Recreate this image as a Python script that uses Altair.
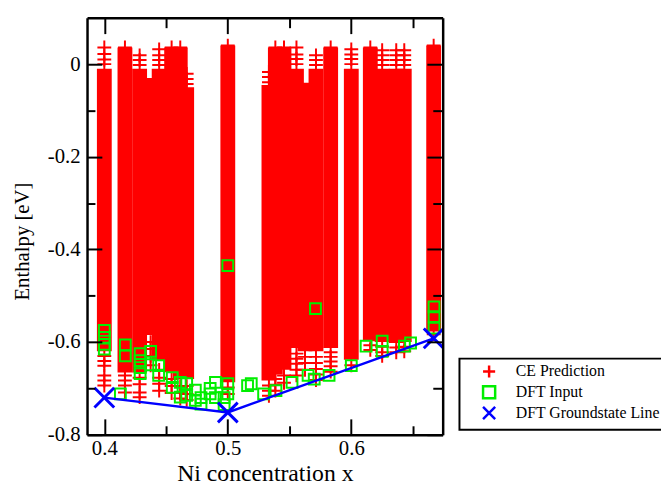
import altair as alt
import pandas as pd

# ---------------- data ----------------
# CE prediction: each concentration forms a dense column of "+" markers (top / bottom of solid band)
col_x = [0.4000, 0.4167, 0.4286, 0.4375, 0.4444, 0.4545, 0.4615, 0.4667, 0.5000,
         0.5333, 0.5385, 0.5455, 0.5556, 0.5625, 0.5714, 0.5833, 0.6000, 0.6154,
         0.6250, 0.6364, 0.6429, 0.6667]
col_top = [-0.010, 0.036, -0.010, -0.030, -0.010, 0.036, 0.036, -0.050, 0.040,
           -0.045, 0.036, 0.036, -0.010, -0.040, -0.010, 0.036, -0.010, 0.036,
           -0.010, -0.010, -0.010, 0.040]
col_bottom = [-0.620, -0.666, -0.666, -0.585, -0.640, -0.665, -0.680, -0.680, -0.687,
              -0.683, -0.670, -0.660, -0.613, -0.620, -0.620, -0.613, -0.638, -0.598,
              -0.600, -0.602, -0.600, -0.577]

# isolated CE "+" markers at the ragged tops and bottoms of the columns
cross_x = ([0.4000] * 4 + [0.4167] + [0.4286] * 3 + [0.4444] * 4 + [0.4545, 0.4615]
           + [0.4667] * 3 + [0.5000] + [0.5333] * 3 + [0.5385, 0.5455] + [0.5556] * 4
           + [0.5714] * 3 + [0.5833] + [0.6000] * 4 + [0.6154] + [0.6250] * 4
           + [0.6364] * 4 + [0.6429] * 4 + [0.6667]
           + [0.4000] * 6 + [0.4167] * 4 + [0.4286] * 4 + [0.4375] * 4 + [0.4444] * 4
           + [0.4545] * 3 + [0.4615] * 3 + [0.4667] * 3 + [0.5000] * 2 + [0.5333] * 3
           + [0.5385] * 3 + [0.5455] * 2 + [0.5556] * 5 + [0.5625] * 3 + [0.5714] * 5
           + [0.5833] * 5 + [0.6000] * 1 + [0.6154] * 2 + [0.6250] * 3 + [0.6364] * 2
           + [0.6429] * 2 + [0.6667])
cross_y = ([0.036, 0.022, 0.010, 0.000] + [0.036] + [0.019, 0.009, -0.002]
           + [0.032, 0.019, 0.009, -0.002] + [0.036, 0.036] + [-0.021, -0.032, -0.043]
           + [0.040] + [-0.017, -0.028, -0.039] + [0.036, 0.036]
           + [0.036, 0.021, 0.011, 0.000] + [0.019, 0.009, -0.002] + [0.036]
           + [0.032, 0.021, 0.011, 0.000] + [0.036] + [0.030, 0.019, 0.009, -0.002]
           + [0.030, 0.019, 0.009, -0.002] + [0.030, 0.019, 0.009, -0.002] + [0.040]
           + [-0.630, -0.641, -0.651, -0.672, -0.683, -0.694]
           + [-0.672, -0.683, -0.694, -0.709] + [-0.677, -0.691, -0.709, -0.719]
           + [-0.600, -0.615, -0.630, -0.650] + [-0.660, -0.677, -0.690, -0.705]
           + [-0.680, -0.695, -0.710] + [-0.695, -0.710, -0.722] + [-0.695, -0.712, -0.725]
           + [-0.698, -0.712] + [-0.694, -0.705, -0.716] + [-0.680, -0.692, -0.705]
           + [-0.672, -0.688] + [-0.625, -0.636, -0.647, -0.660, -0.672]
           + [-0.632, -0.645, -0.660] + [-0.632, -0.645, -0.658, -0.670, -0.682]
           + [-0.622, -0.632, -0.642, -0.652, -0.664] + [-0.650] + [-0.607, -0.617]
           + [-0.610, -0.622, -0.630] + [-0.612, -0.622] + [-0.610, -0.620] + [-0.583])

# DFT input structures (open green squares)
dft_x = [0.400, 0.400, 0.400, 0.400, 0.417, 0.417, 0.413, 0.429, 0.429, 0.429, 0.429,
         0.4375, 0.4375, 0.444, 0.444, 0.455, 0.455, 0.4615, 0.4615, 0.4667, 0.4667,
         0.4737, 0.4737, 0.4783, 0.4783, 0.4857, 0.4857, 0.490, 0.490, 0.497, 0.497,
         0.500, 0.500, 0.500, 0.516, 0.519, 0.529, 0.539, 0.552, 0.565, 0.571, 0.570,
         0.582, 0.600, 0.612, 0.625, 0.625, 0.643, 0.648, 0.667, 0.667, 0.667]
dft_y = [-0.575, -0.590, -0.605, -0.615, -0.606, -0.630, -0.712, -0.625, -0.640, -0.655, -0.668,
         -0.620, -0.649, -0.651, -0.672, -0.677, -0.698, -0.687, -0.719, -0.690, -0.715,
         -0.704, -0.726, -0.720, -0.734, -0.700, -0.712, -0.687, -0.720, -0.720, -0.735,
         -0.712, -0.690, -0.435, -0.694, -0.690, -0.712, -0.705, -0.687, -0.672, -0.528, -0.680,
         -0.672, -0.651, -0.609, -0.598, -0.620, -0.609, -0.602, -0.524, -0.545, -0.570]

# DFT ground-state line
gs_x = [0.4000, 0.5000, 0.6667]
gs_y = [-0.720, -0.752, -0.592]

series_names = ["CE Prediction", "DFT Input", "DFT Groundstate Line"]
series_colors = ["#ff0000", "#00ee00", "#0000ff"]

x_major = [0.4, 0.5, 0.6]
x_minor = [0.45, 0.55, 0.65]
y_major = [0.0, -0.2, -0.4, -0.6, -0.8]
y_minor = [-0.1, -0.3, -0.5, -0.7]

# ---------------- chart ----------------
FONT = "Liberation Serif"
W, H = 360, 422
PLUS = "M-1,0L1,0M0,-1L0,1"
CROSS = "M-1,-1L1,1M-1,1L1,-1"

df_cols = pd.DataFrame({"conc": col_x, "top": col_top, "bottom": col_bottom})
df_cross = pd.DataFrame({"conc": cross_x, "e": cross_y, "series": series_names[0]})
df_dft = pd.DataFrame({"conc": dft_x, "e": dft_y, "series": series_names[1]})
df_gs = pd.DataFrame({"conc": gs_x, "e": gs_y, "series": series_names[2]})

xs = alt.Scale(domain=[0.39, 0.67], nice=False, zero=False)
ys = alt.Scale(domain=[-0.8, 0.1], nice=False, zero=False)

color_scale = alt.Scale(domain=series_names, range=series_colors)
shape_scale = alt.Scale(domain=series_names, range=[PLUS, "square", CROSS])

legend = alt.Legend(
    title=None, orient="none", legendX=377, legendY=345,
    labelFont=FONT, labelFontSize=16, labelColor="black",
    symbolSize=150, symbolStrokeWidth=2.5, symbolOffset=17, labelOffset=19,
    padding=5, rowPadding=-3, strokeColor="black", fillColor="white",
)


def tick_axis(orient, values, size, offset, domain):
    return alt.Axis(orient=orient, values=values, tickSize=size, tickWidth=2,
                    tickColor="black", labels=False, domain=domain, domainWidth=2.5,
                    domainColor="black", title=None, offset=offset, zindex=1, grid=False)


bars = alt.Chart(df_cols).mark_bar(size=15, color="#ff0000", clip=True).encode(
    x=alt.X("conc:Q", scale=xs,
            axis=alt.Axis(orient="bottom", values=x_major, format=".1f", ticks=False,
                          domain=False, labelPadding=3, labelFontSize=21,
                          title="Ni concentration x", titleFontSize=24,
                          titleBaseline="alphabetic", titleY=46, grid=False)),
    y=alt.Y("top:Q", scale=ys,
            axis=alt.Axis(orient="left", values=y_major, ticks=False, domain=False,
                          labelExpr="datum.value == 0 ? '0' : '-' + format(abs(datum.value), '.1f')",
                          labelPadding=7, labelFontSize=21, title="Enthalpy [eV]",
                          titleFontSize=21, titlePadding=15, titleY=226, grid=False)),
    y2="bottom:Q",
)

crosses = alt.Chart(df_cross).mark_point(size=196, strokeWidth=2, filled=False, clip=True,
                                         opacity=1).encode(
    x=alt.X("conc:Q", scale=xs, axis=tick_axis("top", x_major, 16, -H, True)),
    y=alt.Y("e:Q", scale=ys, axis=tick_axis("right", y_major, 15, -W, True)),
    color=alt.Color("series:N", scale=color_scale, legend=legend),
    shape=alt.Shape("series:N", scale=shape_scale, legend=legend),
)

squares = alt.Chart(df_dft).mark_point(size=120, strokeWidth=2, filled=False, clip=True,
                                       opacity=1).encode(
    x=alt.X("conc:Q", scale=xs, axis=tick_axis("top", x_minor, 9, -H, False)),
    y=alt.Y("e:Q", scale=ys, axis=tick_axis("right", y_minor, 8, -W, False)),
    color=alt.Color("series:N", scale=color_scale, legend=legend),
    shape=alt.Shape("series:N", scale=shape_scale, legend=legend),
)

gs_line = alt.Chart(df_gs).mark_line(color="#0000ff", strokeWidth=2.5, clip=True).encode(
    x=alt.X("conc:Q", scale=xs, axis=tick_axis("bottom", x_major, 16, -H, True)),
    y=alt.Y("e:Q", scale=ys, axis=tick_axis("left", y_major, 16, -W, True)),
)

gs_pts = alt.Chart(df_gs).mark_point(size=400, strokeWidth=3, filled=False, clip=True,
                                     opacity=1).encode(
    x=alt.X("conc:Q", scale=xs, axis=tick_axis("bottom", x_minor, 10, -H, False)),
    y=alt.Y("e:Q", scale=ys, axis=tick_axis("left", y_minor, 10, -W, False)),
    color=alt.Color("series:N", scale=color_scale, legend=legend),
    shape=alt.Shape("series:N", scale=shape_scale, legend=legend),
)

chart = (
    alt.layer(bars, crosses, squares, gs_line, gs_pts)
    .resolve_axis(x="independent", y="independent")
    .properties(width=W, height=H, autosize=alt.AutoSizeParams(type="none"),
                padding={"left": 80, "top": 7, "right": 221, "bottom": 48},
                background="white")
    .configure_view(stroke=None)
    .configure_axis(labelFont=FONT, labelFontSize=20, labelColor="black",
                    titleFont=FONT, titleFontSize=20, titleFontWeight="normal",
                    titleColor="black")
    .configure_legend(strokeWidth=2)
)

chart.save("out.html", embed_options={"renderer": "svg", "actions": False})
